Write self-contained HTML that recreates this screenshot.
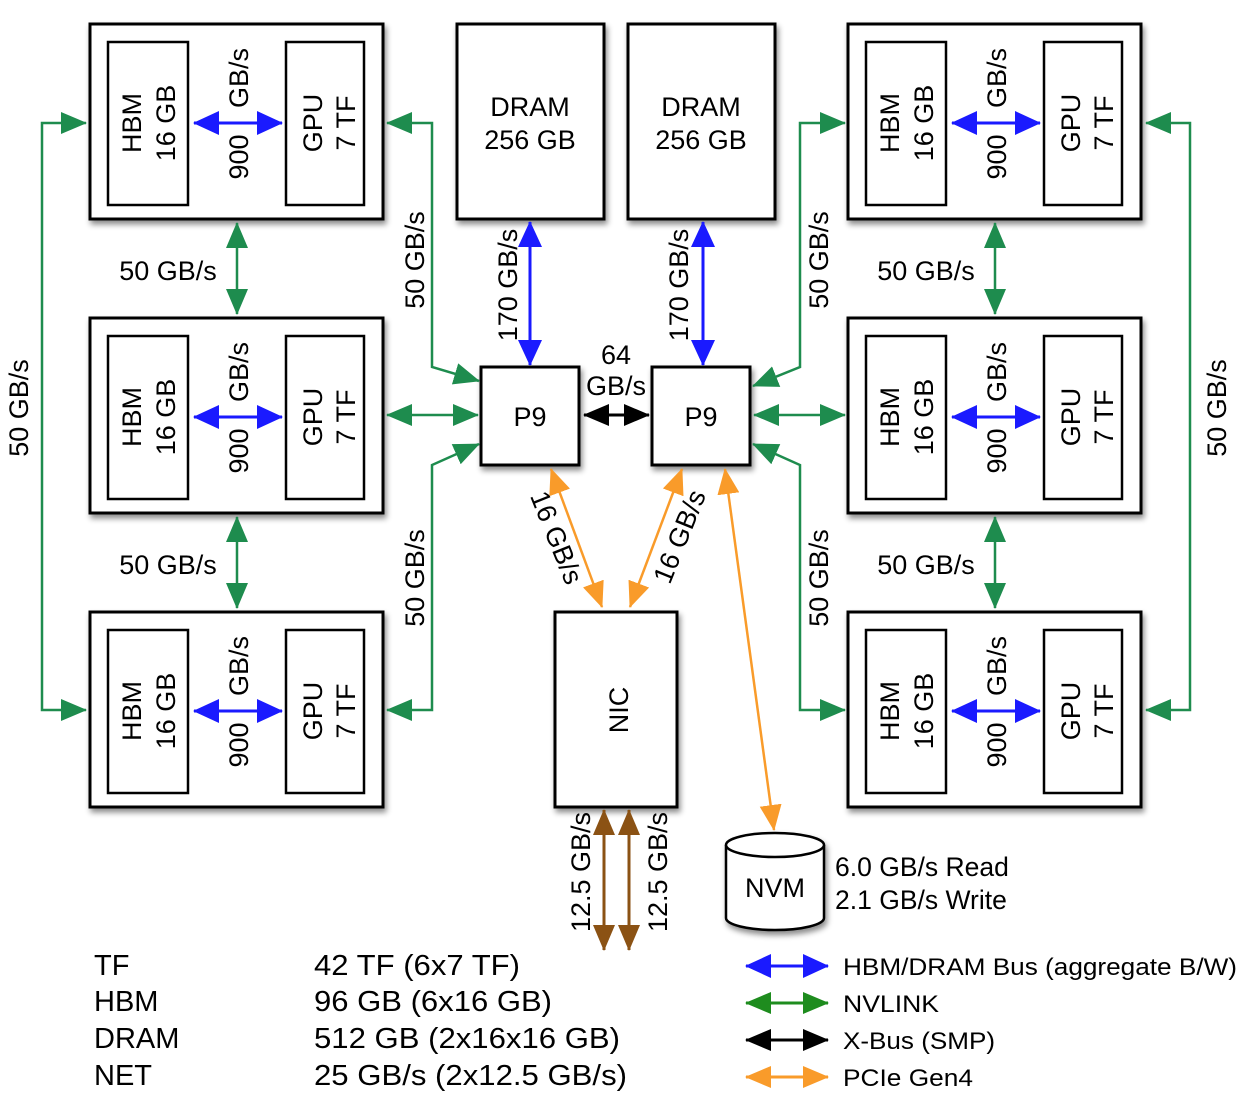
<!DOCTYPE html>
<html><head><meta charset="utf-8"><style>
html,body{margin:0;padding:0;background:#fff;}
svg{display:block;font-family:"Liberation Sans",Arial,sans-serif;}
</style></head><body>
<svg width="1245" height="1094" viewBox="0 0 1245 1094" xmlns="http://www.w3.org/2000/svg">
<defs>
<filter id="sh" x="-10%" y="-10%" width="130%" height="130%"><feDropShadow dx="2" dy="4" stdDeviation="3" flood-color="#000" flood-opacity="0.45"/></filter>
<marker id="gE" markerUnits="userSpaceOnUse" markerWidth="26" markerHeight="22" refX="25" refY="11" orient="auto-start-reverse"><path d="M0,0 L26,11 L0,22 z" fill="#1e8c4e"/></marker>
<marker id="lgE" markerUnits="userSpaceOnUse" markerWidth="26" markerHeight="22" refX="25" refY="11" orient="auto-start-reverse"><path d="M0,0 L26,11 L0,22 z" fill="#1e8c1e"/></marker>
<marker id="bE" markerUnits="userSpaceOnUse" markerWidth="26" markerHeight="24" refX="25" refY="12" orient="auto-start-reverse"><path d="M0,0 L26,12 L0,24 z" fill="#1a1aff"/></marker>
<marker id="kE" markerUnits="userSpaceOnUse" markerWidth="26" markerHeight="22" refX="25" refY="11" orient="auto-start-reverse"><path d="M0,0 L26,11 L0,22 z" fill="#000"/></marker>
<marker id="oE" markerUnits="userSpaceOnUse" markerWidth="26" markerHeight="22" refX="25" refY="11" orient="auto-start-reverse"><path d="M0,0 L26,11 L0,22 z" fill="#f99b2a"/></marker>
<marker id="nE" markerUnits="userSpaceOnUse" markerWidth="26" markerHeight="22" refX="25" refY="11" orient="auto-start-reverse"><path d="M0,0 L26,11 L0,22 z" fill="#8b5214"/></marker>
<g id="gpu">
<rect x="0" y="0" width="293" height="195" fill="#fff" stroke="#000" stroke-width="3" filter="url(#sh)"/>
<rect x="18" y="18" width="80" height="163" fill="#fff" stroke="#000" stroke-width="2.5"/>
<rect x="196" y="18" width="78" height="163" fill="#fff" stroke="#000" stroke-width="2.5"/>
<line x1="104" y1="99" x2="192" y2="99" stroke="#1a1aff" stroke-width="3" marker-start="url(#bE)" marker-end="url(#bE)"/>
<g font-size="27" text-anchor="middle">
<text transform="translate(51,99) rotate(-90)">HBM</text>
<text transform="translate(85,99) rotate(-90)">16 GB</text>
<text transform="translate(232,99) rotate(-90)">GPU</text>
<text transform="translate(265,99) rotate(-90)">7 TF</text>
<text transform="translate(158,133) rotate(-90)">900</text>
<text transform="translate(158,54) rotate(-90)">GB/s</text>
</g>
</g>
</defs>

<use href="#gpu" x="90" y="24"/>
<use href="#gpu" x="90" y="318"/>
<use href="#gpu" x="90" y="612"/>
<use href="#gpu" x="848" y="24"/>
<use href="#gpu" x="848" y="318"/>
<use href="#gpu" x="848" y="612"/>

<rect x="457" y="24" width="147" height="195" fill="#fff" stroke="#000" stroke-width="3" filter="url(#sh)"/>
<rect x="628" y="24" width="147" height="195" fill="#fff" stroke="#000" stroke-width="3" filter="url(#sh)"/>
<g font-size="27" text-anchor="middle">
<text x="530" y="116">DRAM</text><text x="530" y="149">256 GB</text>
<text x="701" y="116">DRAM</text><text x="701" y="149">256 GB</text>
</g>

<rect x="481" y="367" width="98" height="98" fill="#fff" stroke="#000" stroke-width="3" filter="url(#sh)"/>
<rect x="652" y="367" width="98" height="98" fill="#fff" stroke="#000" stroke-width="3" filter="url(#sh)"/>
<text x="530" y="426" font-size="27" text-anchor="middle">P9</text>
<text x="701" y="426" font-size="27" text-anchor="middle">P9</text>

<rect x="555" y="612" width="122" height="195" fill="#fff" stroke="#000" stroke-width="3" filter="url(#sh)"/>
<text transform="translate(628,710) rotate(-90)" font-size="27" text-anchor="middle">NIC</text>

<g filter="url(#sh)">
<path d="M726,845 L726,918 A49,12 0 0 0 824,918 L824,845" fill="#fff" stroke="#000" stroke-width="2.5"/>
<ellipse cx="775" cy="845" rx="49" ry="12" fill="#fff" stroke="#000" stroke-width="2.5"/>
</g>
<text x="775" y="897" font-size="27" text-anchor="middle">NVM</text>
<text x="835" y="876" font-size="26.5">6.0 GB/s Read</text>
<text x="835" y="909" font-size="26.5">2.1 GB/s Write</text>

<g stroke="#1e8c4e" stroke-width="2.5" fill="none">
<polyline points="86,123 42,123 42,710 86,710" marker-start="url(#gE)" marker-end="url(#gE)"/>
<line x1="237" y1="223" x2="237" y2="314" marker-start="url(#gE)" marker-end="url(#gE)"/>
<line x1="237" y1="517" x2="237" y2="608" marker-start="url(#gE)" marker-end="url(#gE)"/>
<polyline points="387,123 432,123 432,367 479,381" marker-start="url(#gE)" marker-end="url(#gE)"/>
<line x1="387" y1="415" x2="478" y2="415" marker-start="url(#gE)" marker-end="url(#gE)"/>
<polyline points="387,710 432,710 432,465 479,444" marker-start="url(#gE)" marker-end="url(#gE)"/>
<polyline points="845,123 800,123 800,367 753,386" marker-start="url(#gE)" marker-end="url(#gE)"/>
<line x1="845" y1="415" x2="754" y2="415" marker-start="url(#gE)" marker-end="url(#gE)"/>
<polyline points="845,710 800,710 800,465 753,444" marker-start="url(#gE)" marker-end="url(#gE)"/>
<line x1="995" y1="223" x2="995" y2="314" marker-start="url(#gE)" marker-end="url(#gE)"/>
<line x1="995" y1="517" x2="995" y2="608" marker-start="url(#gE)" marker-end="url(#gE)"/>
<polyline points="1146,123 1190,123 1190,710 1146,710" marker-start="url(#gE)" marker-end="url(#gE)"/>
</g>
<g font-size="27" text-anchor="middle">
<text x="168" y="280">50 GB/s</text>
<text x="168" y="574">50 GB/s</text>
<text x="926" y="280">50 GB/s</text>
<text x="926" y="574">50 GB/s</text>
<text transform="translate(28,408) rotate(-90)">50 GB/s</text>
<text transform="translate(1226,408) rotate(-90)">50 GB/s</text>
<text transform="translate(424,260) rotate(-90)">50 GB/s</text>
<text transform="translate(424,578) rotate(-90)">50 GB/s</text>
<text transform="translate(828,260) rotate(-90)">50 GB/s</text>
<text transform="translate(828,578) rotate(-90)">50 GB/s</text>
<text transform="translate(517,285) rotate(-90)">170 GB/s</text>
<text transform="translate(688,285) rotate(-90)">170 GB/s</text>
<text x="616" y="364">64</text>
<text x="616" y="395">GB/s</text>
<text transform="translate(548,541) rotate(68)">16 GB/s</text>
<text transform="translate(688,540) rotate(-68)">16 GB/s</text>
<text transform="translate(590,872) rotate(-90)">12.5 GB/s</text>
<text transform="translate(667,872) rotate(-90)">12.5 GB/s</text>
</g>

<line x1="530" y1="222" x2="530" y2="365" stroke="#1a1aff" stroke-width="3" marker-start="url(#bE)" marker-end="url(#bE)"/>
<line x1="703" y1="222" x2="703" y2="365" stroke="#1a1aff" stroke-width="3" marker-start="url(#bE)" marker-end="url(#bE)"/>
<line x1="584" y1="415" x2="649" y2="415" stroke="#000" stroke-width="3" marker-start="url(#kE)" marker-end="url(#kE)"/>
<g stroke="#f99b2a" stroke-width="2.5">
<line x1="551" y1="469" x2="602" y2="607" marker-start="url(#oE)" marker-end="url(#oE)"/>
<line x1="682" y1="469" x2="630" y2="607" marker-start="url(#oE)" marker-end="url(#oE)"/>
<line x1="725" y1="469" x2="774" y2="830" marker-start="url(#oE)" marker-end="url(#oE)"/>
</g>
<g stroke="#8b5214" stroke-width="3">
<line x1="604" y1="810" x2="604" y2="950" marker-start="url(#nE)" marker-end="url(#nE)"/>
<line x1="629" y1="810" x2="629" y2="950" marker-start="url(#nE)" marker-end="url(#nE)"/>
</g>

<g font-size="29">
<text x="94" y="975">TF</text>
<text x="94" y="1011">HBM</text>
<text x="94" y="1048">DRAM</text>
<text x="94" y="1085">NET</text>
<text x="314" y="975" textLength="206" lengthAdjust="spacingAndGlyphs">42 TF (6x7 TF)</text>
<text x="314" y="1011" textLength="238" lengthAdjust="spacingAndGlyphs">96 GB (6x16 GB)</text>
<text x="314" y="1048" textLength="306" lengthAdjust="spacingAndGlyphs">512 GB (2x16x16 GB)</text>
<text x="314" y="1085" textLength="313" lengthAdjust="spacingAndGlyphs">25 GB/s (2x12.5 GB/s)</text>
</g>
<line x1="746" y1="966" x2="828" y2="966" stroke="#1a1aff" stroke-width="3" marker-start="url(#bE)" marker-end="url(#bE)"/>
<line x1="746" y1="1003" x2="828" y2="1003" stroke="#1e8c1e" stroke-width="3" marker-start="url(#lgE)" marker-end="url(#lgE)"/>
<line x1="746" y1="1040" x2="828" y2="1040" stroke="#000" stroke-width="3" marker-start="url(#kE)" marker-end="url(#kE)"/>
<line x1="746" y1="1077" x2="828" y2="1077" stroke="#f99b2a" stroke-width="3" marker-start="url(#oE)" marker-end="url(#oE)"/>
<g font-size="24">
<text x="843" y="975" textLength="394" lengthAdjust="spacingAndGlyphs">HBM/DRAM Bus (aggregate B/W)</text>
<text x="843" y="1012" textLength="96" lengthAdjust="spacingAndGlyphs">NVLINK</text>
<text x="843" y="1049" textLength="152" lengthAdjust="spacingAndGlyphs">X-Bus (SMP)</text>
<text x="843" y="1086" textLength="130" lengthAdjust="spacingAndGlyphs">PCIe Gen4</text>
</g>
</svg>
</body></html>
